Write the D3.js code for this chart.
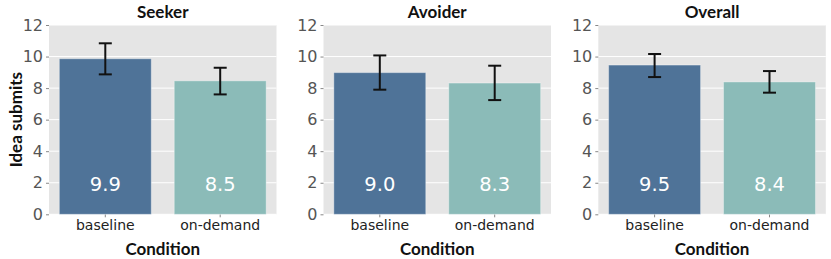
<!DOCTYPE html>
<html>
<head>
<meta charset="utf-8">
<script src="https://cdn.jsdelivr.net/npm/d3@7"></script>
<style>
  body { margin: 0; background: #fff; }
  svg { display: block; }
</style>
</head>
<body>
<div id="chart"></div>
<script>
// data
const panels = ["Seeker", "Avoider", "Overall"];
const conditions = ["baseline", "on-demand"];
const means = [[9.86, 8.46], [8.98, 8.32], [9.46, 8.39]];
const ciLow = [[8.87, 7.60], [7.90, 7.24], [8.70, 7.71]];
const ciHigh = [[10.84, 9.29], [10.07, 9.42], [10.16, 9.08]];
const yTicks = [0, 2, 4, 6, 8, 10, 12];
const colors = ["#4f7398", "#8bbbb8"];

const W = 831, H = 259;
const panelLeft = [49, 323.5, 598.3];
const panelW = 227.5;
const plotTop = 25, plotBottom = 214.3;

const svg = d3.select("#chart").append("svg")
    .attr("width", W).attr("height", H);

const y = d3.scaleLinear().domain([0, 12]).range([plotBottom, plotTop]);

panels.forEach((name, i) => {
    const g = svg.append("g").attr("transform", `translate(${panelLeft[i]},0)`);

    const x = d3.scaleBand()
        .domain(conditions)
        .range([0, panelW])
        .paddingInner(0.2)
        .paddingOuter(0.09);

    // background
    g.append("rect")
        .attr("x", 0).attr("y", plotTop)
        .attr("width", panelW).attr("height", plotBottom - plotTop)
        .attr("fill", "#e5e5e5");

    // grid
    g.selectAll(".grid").data(yTicks).enter().append("line")
        .attr("x1", 0).attr("x2", panelW)
        .attr("y1", d => y(d)).attr("y2", d => y(d))
        .attr("stroke", "#fff").attr("stroke-width", 1);

    // y axis
    const ya = g.append("g")
        .call(d3.axisLeft(y).tickValues(yTicks).tickSize(3).tickPadding(3));
    ya.select(".domain").remove();
    ya.selectAll(".tick line").attr("stroke", "#888");
    ya.selectAll("text")
        .style("font-family", "DejaVu Sans")
        .style("font-size", "16px")
        .attr("fill", "#555");

    // x axis
    const xa = g.append("g")
        .attr("transform", `translate(0,${plotBottom})`)
        .call(d3.axisBottom(x).tickSize(3).tickPadding(3));
    xa.select(".domain").remove();
    xa.selectAll(".tick line").attr("stroke", "#888");
    xa.selectAll("text")
        .style("font-family", "DejaVu Sans")
        .style("font-size", "14px")
        .attr("fill", "#222");

    const rows = conditions.map((c, j) => ({
        c: c, m: means[i][j], lo: ciLow[i][j], hi: ciHigh[i][j], col: colors[j]
    }));

    // bars
    g.selectAll(".bar").data(rows).enter().append("rect")
        .attr("x", d => x(d.c))
        .attr("y", d => y(d.m))
        .attr("width", x.bandwidth())
        .attr("height", d => y(0) - y(d.m))
        .attr("fill", d => d.col)
        .attr("stroke", "rgba(255,255,255,0.35)")
        .attr("stroke-width", 1);

    // error bars
    const cap = 6.5;
    const eb = g.selectAll(".err").data(rows).enter().append("g")
        .attr("stroke", "#111").attr("stroke-width", 2);
    eb.append("line")
        .attr("x1", d => x(d.c) + x.bandwidth() / 2)
        .attr("x2", d => x(d.c) + x.bandwidth() / 2)
        .attr("y1", d => y(d.lo)).attr("y2", d => y(d.hi));
    eb.append("line")
        .attr("x1", d => x(d.c) + x.bandwidth() / 2 - cap)
        .attr("x2", d => x(d.c) + x.bandwidth() / 2 + cap)
        .attr("y1", d => y(d.hi)).attr("y2", d => y(d.hi));
    eb.append("line")
        .attr("x1", d => x(d.c) + x.bandwidth() / 2 - cap)
        .attr("x2", d => x(d.c) + x.bandwidth() / 2 + cap)
        .attr("y1", d => y(d.lo)).attr("y2", d => y(d.lo));

    // value labels
    g.selectAll(".val").data(rows).enter().append("text")
        .attr("x", d => x(d.c) + x.bandwidth() / 2)
        .attr("y", y(2) + 8)
        .attr("text-anchor", "middle")
        .style("font-family", "DejaVu Sans")
        .style("font-size", "19.5px")
        .attr("fill", "#fff")
        .text(d => d.m.toFixed(1));

    // title
    g.append("text")
        .attr("x", panelW / 2).attr("y", 18)
        .attr("text-anchor", "middle")
        .style("font-family", "Lato")
        .style("font-weight", "bold")
        .style("font-size", "17px")
        .attr("fill", "#111")
        .text(name);

    // x label
    g.append("text")
        .attr("x", panelW / 2).attr("y", 255)
        .attr("text-anchor", "middle")
        .style("font-family", "Lato")
        .style("font-weight", "bold")
        .style("font-size", "17px")
        .attr("fill", "#111")
        .text("Condition");
});

// y label
svg.append("text")
    .attr("transform", `translate(22,${(plotTop + plotBottom) / 2}) rotate(-90)`)
    .attr("text-anchor", "middle")
    .style("font-family", "Lato")
    .style("font-weight", "bold")
    .style("font-size", "17px")
    .attr("fill", "#111")
    .text("Idea submits");
</script>
</body>
</html>
